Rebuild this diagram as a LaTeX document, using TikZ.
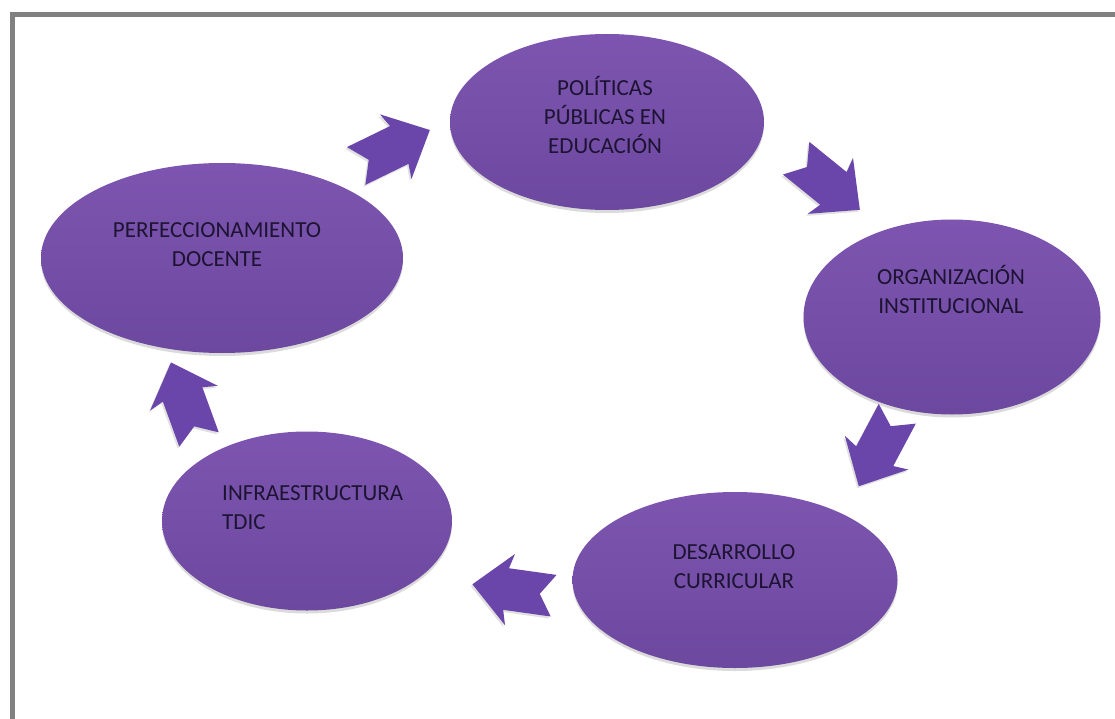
\documentclass[tikz,border=0pt]{standalone}
\usepackage{fontspec}
\setmainfont{Carlito}
\usetikzlibrary{shapes.geometric,shadows}
\definecolor{ellA}{HTML}{7D55B0}
\definecolor{ellB}{HTML}{6D489F}
\definecolor{arr}{HTML}{6B46AA}
\definecolor{txt}{HTML}{1C1432}
\definecolor{framegray}{HTML}{808080}
\tikzset{
  bubble/.style={ellipse, draw=none, top color=ellA, bottom color=ellB, inner sep=0pt,
    drop shadow={shadow xshift=0pt, shadow yshift=-3pt, fill=black!40, opacity=0.35}},
  lbl/.style={font=\fontsize{23}{29}\selectfont, text=txt, align=center, inner sep=0pt},
  blockarrow/.style={fill=arr, drop shadow={shadow xshift=-1.5pt, shadow yshift=-2pt, fill=black!40, opacity=0.3}},
  framestyle/.style={draw=framegray, line width=5pt, line join=miter}
}
\newcommand{\blkarrow}[3]{\fill[blockarrow, shift={(#1,#2)}, rotate=#3]
  (41,0) -- (3,-36) -- (7,-21) -- (-41,-21) -- (-27,0) -- (-41,21) -- (7,21) -- (3,36) -- cycle;}
\begin{document}
\begin{tikzpicture}[x=1pt,y=-1pt]
\useasboundingbox (0,0) rectangle (1115,719);
\fill[white] (0,0) rectangle (1115,719);
\draw[framestyle] (12,725) -- (12,15) -- (1120,15);

\node[bubble, minimum width=314pt, minimum height=176pt] (pol) at (607,122) {};
\node[bubble, minimum width=362pt, minimum height=190pt] (perf) at (222,258) {};
\node[bubble, minimum width=297pt, minimum height=195pt] (org) at (952,317) {};
\node[bubble, minimum width=325pt, minimum height=176pt] (des) at (735,580) {};
\node[bubble, minimum width=290pt, minimum height=179pt] (inf) at (307,521) {};

\node[lbl] (polt) at (605,115) {POLÍTICAS\\PÚBLICAS EN\\EDUCACIÓN};
\node[lbl] (perft) at (217,245) {PERFECCIONAMIENTO\\DOCENTE};
\node[lbl] (orgt) at (951,289) {ORGANIZACIÓN\\INSTITUCIONAL};
\node[lbl] (dest) at (734,567) {DESARROLLO\\CURRICULAR};
\node[lbl, align=left, anchor=west] (inft) at (222,508) {INFRAESTRUCTURA\\TDIC};

\blkarrow{393}{148}{26}
\blkarrow{828}{184}{-39}
\blkarrow{878}{450}{-118}
\blkarrow{513}{590}{172}
\blkarrow{185}{401}{110}
\end{tikzpicture}
\end{document}
